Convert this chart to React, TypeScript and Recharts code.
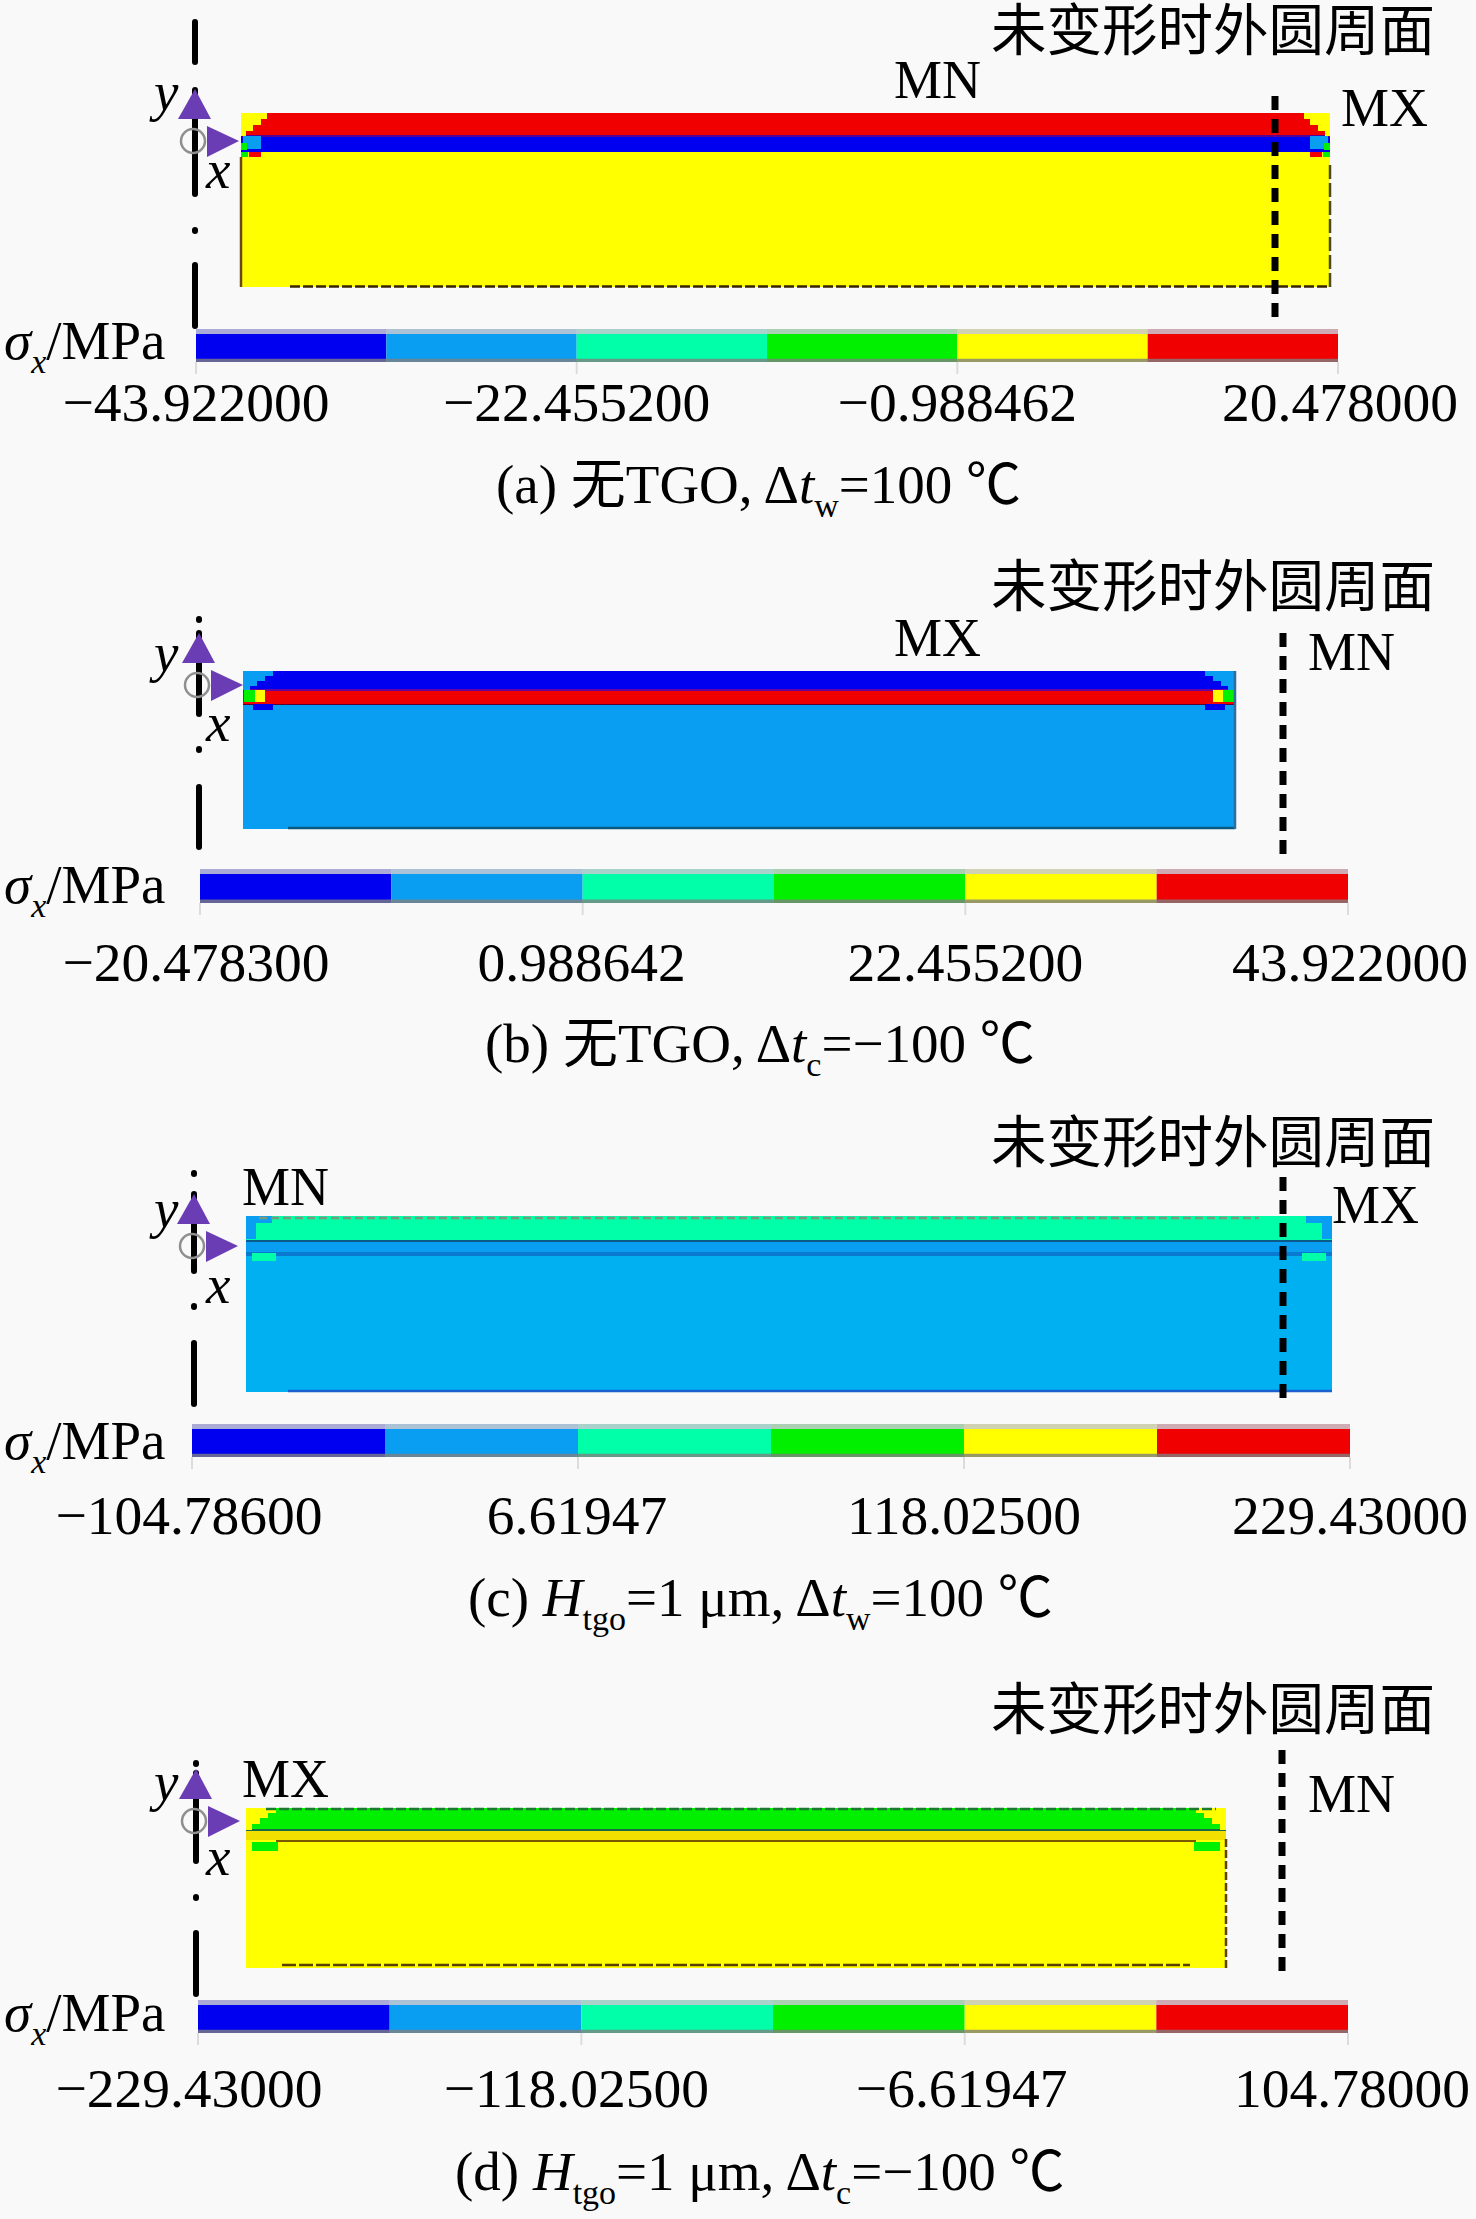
import React from "react";
import {
  Area,
  ComposedChart,
  ReferenceArea,
  ReferenceDot,
  ReferenceLine,
  XAxis,
  YAxis,
} from "recharts";

// contour bands, low to high stress
const BAND_COLORS = ["#0000f0", "#0a9ef2", "#00ffa8", "#00f000", "#ffff00", "#f00000"];

// colour bar boundaries (MPa) and printed tick labels
const boundsA = [-43.922, -33.1886, -22.4552, -11.7218, -0.988462, 9.7448, 20.478];
const boundsB = [-20.4783, -9.745, 0.988642, 11.722, 22.4552, 33.189, 43.922];
const boundsC = [-104.786, -49.083, 6.61947, 62.322, 118.025, 173.728, 229.43];
const boundsD = [-229.43, -173.728, -118.025, -62.322, -6.61947, 49.083, 104.78];

const ticksA = ["−43.922000", "−22.455200", "−0.988462", "20.478000"];
const ticksB = ["−20.478300", "0.988642", "22.455200", "43.922000"];
const ticksC = ["−104.78600", "6.61947", "118.02500", "229.43000"];
const ticksD = ["−229.43000", "−118.02500", "−6.61947", "104.78000"];

// plate layers, bottom to top, thickness in model units
const layersA = [13.5, 1.5, 0.2, 2.2];
const layersB = [12.4, 0.1, 1.3, 0.2, 1.8];
const layersC = [13.6, 0.4, 1.0, 0.2, 2.4];
const layersD = [12.6, 0.2, 0.9, 0.2, 2.1];

const layerColorsA = ["#ffff00", "#0000f0", "#5a008c", "#f00000"];
const layerColorsB = ["#0a9ef2", "#5a0030", "#f00000", "#6a00a0", "#0000f0"];
const layerColorsC = ["#00b0f0", "#0a7ad0", "#0a9ef2", "#0a5a8a", "#00ffa8"];
const layerColorsD = ["#ffff00", "#7a5a00", "#f2e000", "#1a6a4a", "#00f000"];

// plate extent along x from the symmetry axis, model units
const spanA = [4.6, 113.5];
const spanB = [4.4, 103.6];
const spanC = [5.2, 113.8];
const spanD = [5.0, 103.0];

// undeformed outer surface: [x, yTop, yBottom]
const surfaceA = [108.0, 19.1, -3.5];
const surfaceB = [108.4, 19.6, -2.9];
const surfaceC = [108.9, 21.5, -1.0];
const surfaceD = [108.6, 21.8, -0.7];

// dash-dot symmetry axis pieces: [yTop, yBottom]
const axisA = [[26.5, 22.5], [19.7, 9.3], [5.7, 5.6], [2.2, -3.9]];
const axisB = [[21.0, 20.9], [19.6, 11.5], [8.0, 7.9], [4.2, -1.8]];
const axisC = [[21.9, 21.8], [19.8, 12.1], [8.6, 8.5], [4.9, -1.2]];
const axisD = [[20.5, 20.4], [19.5, 10.7], [7.1, 7.0], [3.5, -2.6]];

// coordinate origin height
const originA = 14.6;
const originB = 14.4;
const originC = 14.6;
const originD = 14.7;

// corner patches, mirrored on both plate ends:
// [edge distance from, edge distance to, depth from, depth to, band]
const cornersA = [
  [0, 2.6, 0, 0.6, 4],
  [0, 2.0, 0.6, 1.2, 4],
  [0, 1.2, 1.2, 1.8, 4],
  [0, 0.5, 1.8, 2.3, 4],
  [0.2, 2.0, 2.3, 3.6, 1],
  [0, 0.6, 3.0, 3.7, 3],
  [0.8, 2.0, 3.9, 4.4, 5],
  [0, 0.7, 3.9, 4.4, 3],
];
const cornersB = [
  [0, 3.0, 0, 0.5, 1],
  [0, 2.2, 0.5, 1.0, 1],
  [0, 1.4, 1.0, 1.5, 1],
  [0, 0.7, 1.5, 1.9, 1],
  [0.1, 1.2, 1.9, 3.1, 3],
  [1.2, 2.2, 1.9, 3.1, 4],
  [1.0, 3.0, 3.3, 3.9, 0],
];
const cornersC = [
  [0, 2.6, 0, 0.7, 1],
  [0, 1.0, 0.7, 2.3, 1],
  [0.6, 3.0, 3.7, 4.5, 2],
];
const cornersD = [
  [0, 3.0, 0, 0.5, 4],
  [0, 2.2, 0.5, 1.0, 4],
  [0, 1.4, 1.0, 1.6, 4],
  [0, 0.6, 1.6, 2.2, 4],
  [0, 3.0, 3.2, 3.4, 4],
  [0.6, 3.2, 3.4, 4.3, 3],
];

// dark mesh edges: [xFrom, xTo, yFrom, yTo, colour, dash]
const edgesA = [
  [9.5, 113.5, 0.05, 0.05, "#3a2400", "10 3"],
  [4.6, 4.6, 0, 13.0, "#6a4a10", ""],
  [113.5, 113.5, 0, 12.4, "#4a4a20", "14 4"],
];
const edgesB = [
  [8.9, 103.6, 0.1, 0.1, "#0a5a80", ""],
  [103.6, 103.6, 0, 15.8, "#2f6f9f", ""],
];
const edgesC = [
  [9.4, 113.8, 0.1, 0.1, "#1a60d0", ""],
  [6.5, 106.5, 17.4, 17.4, "#7a9a80", "8 4"],
];
const edgesD = [
  [8.6, 99.4, 0.3, 0.3, "#5a4000", "14 3"],
  [103.0, 103.0, 0, 13.0, "#604000", "8 3"],
  [7.0, 102.0, 15.9, 15.9, "#1a7a30", "10 3"],
];

// page placement of each panel (pixels)
const panelLayout = [
  { axisX: 195, plateBottom: 287, top: 0, height: 330, barLeft: 196, barRight: 1338, barTop: 329, barHeight: 33, tickDrop: 59, tickNudge: [0, 0, 0, 2] },
  { axisX: 199, plateBottom: 829, top: 600, height: 262, barLeft: 200, barRight: 1348, barTop: 869, barHeight: 34, tickDrop: 78, tickNudge: [-4, -1, 0, 2] },
  { axisX: 194, plateBottom: 1392, top: 1160, height: 250, barLeft: 192, barRight: 1350, barTop: 1424, barHeight: 33, tickDrop: 77, tickNudge: [-3, -1, 0, 0] },
  { axisX: 196, plateBottom: 1968, top: 1740, height: 260, barLeft: 198, barRight: 1348, barTop: 2000, barHeight: 33, tickDrop: 74, tickNudge: [-9, -5, -3, 4] },
];

const panels = [
  { bounds: boundsA, ticks: ticksA, layers: layersA, colors: layerColorsA, span: spanA, surface: surfaceA, axis: axisA, origin: originA, corners: cornersA, edges: edgesA },
  { bounds: boundsB, ticks: ticksB, layers: layersB, colors: layerColorsB, span: spanB, surface: surfaceB, axis: axisB, origin: originB, corners: cornersB, edges: edgesB },
  { bounds: boundsC, ticks: ticksC, layers: layersC, colors: layerColorsC, span: spanC, surface: surfaceC, axis: axisC, origin: originC, corners: cornersC, edges: edgesC },
  { bounds: boundsD, ticks: ticksD, layers: layersD, colors: layerColorsD, span: spanD, surface: surfaceD, axis: axisD, origin: originD, corners: cornersD, edges: edgesD },
];

const SERIF = "'Liberation Serif', 'Noto Sans CJK SC', serif";
const CJK = "'Noto Sans CJK SC', sans-serif";
const FONT_SIZE = 55;
const PX_PER_UNIT = 10;
const SUB_DROP = 14;

function CoordinateTriad(props: any) {
  const { cx, cy } = props;
  return (
    <g>
      <circle cx={cx - 2} cy={cy} r={12} fill="none" stroke="#8f8f8f" strokeWidth={2.5} />
      <polygon
        points={`${cx},${cy - 52} ${cx - 17},${cy - 22} ${cx + 16},${cy - 22}`}
        fill="#6a3db4"
      />
      <polygon
        points={`${cx + 12},${cy - 15} ${cx + 44},${cy} ${cx + 12},${cy + 16}`}
        fill="#6a3db4"
      />
    </g>
  );
}

function PlateChart({ panel, layout }: any) {
  const { axisX, plateBottom, top, height } = layout;
  const xDomain = [-axisX / PX_PER_UNIT, (1476 - axisX) / PX_PER_UNIT];
  const yDomain = [
    (plateBottom - (top + height)) / PX_PER_UNIT,
    (plateBottom - top) / PX_PER_UNIT,
  ];
  const [x0, x1] = panel.span;
  const rows = panel.span.map((x: number) => {
    const row: any = { x };
    panel.layers.forEach((t: number, i: number) => {
      row[`layer${i}`] = t;
    });
    return row;
  });
  const plateTop = panel.layers.reduce((a: number, b: number) => a + b, 0);

  return (
    <div style={{ position: "absolute", left: 0, top }}>
      <ComposedChart
        width={1476}
        height={height}
        data={rows}
        margin={{ top: 0, right: 0, bottom: 0, left: 0 }}
      >
        <XAxis dataKey="x" type="number" domain={xDomain} allowDataOverflow hide />
        <YAxis type="number" domain={yDomain} allowDataOverflow hide />
        {panel.layers.map((_: number, i: number) => (
          <Area
            key={i}
            dataKey={`layer${i}`}
            stackId="plate"
            type="linear"
            fill={panel.colors[i]}
            fillOpacity={1}
            stroke="none"
            dot={false}
            activeDot={false}
            isAnimationActive={false}
          />
        ))}
        {panel.corners.flatMap((c: number[], i: number) =>
          [
            [x0 + c[0], x0 + c[1]],
            [x1 - c[1], x1 - c[0]],
          ].map((xs, side) => (
            <ReferenceArea
              key={`corner-${i}-${side}`}
              x1={xs[0]}
              x2={xs[1]}
              y1={plateTop - c[3]}
              y2={plateTop - c[2]}
              fill={BAND_COLORS[c[4]]}
              fillOpacity={1}
              stroke="none"
              ifOverflow="visible"
            />
          ))
        )}
        {panel.edges.map((e: any[], i: number) => (
          <ReferenceLine
            key={`edge-${i}`}
            segment={[
              { x: e[0], y: e[2] },
              { x: e[1], y: e[3] },
            ]}
            stroke={e[4]}
            strokeWidth={2.5}
            strokeDasharray={e[5]}
            ifOverflow="visible"
          />
        ))}
        <ReferenceLine
          segment={[
            { x: panel.surface[0], y: panel.surface[1] },
            { x: panel.surface[0], y: panel.surface[2] },
          ]}
          stroke="#000"
          strokeWidth={7}
          strokeDasharray="14 9"
          ifOverflow="visible"
        />
        <ReferenceDot
          x={0}
          y={panel.origin}
          r={1}
          shape={<CoordinateTriad />}
          ifOverflow="visible"
        />
        {panel.axis.map((seg: number[], i: number) => (
          <ReferenceLine
            key={`axis-${i}`}
            segment={[
              { x: 0, y: seg[0] },
              { x: 0, y: seg[1] },
            ]}
            stroke="#000"
            strokeWidth={6}
            strokeLinecap="round"
            ifOverflow="visible"
          />
        ))}
      </ComposedChart>
    </div>
  );
}

function ColorBar({ panel, layout }: any) {
  const { barLeft, barRight, barHeight, barTop, tickDrop, tickNudge } = layout;
  const bounds = panel.bounds;
  // each band is only defined on its own two boundaries
  const rows = bounds.map((v: number, i: number) => {
    const row: any = { v };
    if (i < 6) row[`band${i}`] = 1;
    if (i > 0) row[`band${i - 1}`] = 1;
    return row;
  });
  const tickValues = [bounds[0], bounds[2], bounds[4], bounds[6]];

  const renderTick = (props: any) => {
    const idx = tickValues.indexOf(props.payload.value);
    return (
      <text
        x={props.x + tickNudge[idx]}
        y={barHeight + tickDrop}
        textAnchor="middle"
        fontFamily={SERIF}
        fontSize={55.5}
        fill="#000"
      >
        {panel.ticks[idx]}
      </text>
    );
  };

  return (
    <div style={{ position: "absolute", left: 0, top: barTop }}>
      <ComposedChart
        width={1476}
        height={barHeight + 110}
        data={rows}
        margin={{ top: 0, right: 1476 - barRight, bottom: 0, left: barLeft }}
      >
        <XAxis
          dataKey="v"
          type="number"
          domain={[bounds[0], bounds[6]]}
          ticks={tickValues}
          interval={0}
          height={110}
          axisLine={false}
          tickLine={{ stroke: "#dcdcdc", strokeWidth: 2 }}
          tickSize={12}
          tick={renderTick}
        />
        <YAxis type="number" domain={[0, 1]} hide />
        {BAND_COLORS.map((color, i) => (
          <Area
            key={i}
            dataKey={`band${i}`}
            baseValue={0}
            type="linear"
            fill={color}
            fillOpacity={1}
            stroke="none"
            dot={false}
            activeDot={false}
            isAnimationActive={false}
          />
        ))}
        <ReferenceArea
          x1={bounds[0]}
          x2={bounds[6]}
          y1={0.85}
          y2={1}
          fill="#c9c9d2"
          fillOpacity={0.85}
          stroke="none"
        />
        <ReferenceArea
          x1={bounds[0]}
          x2={bounds[6]}
          y1={0}
          y2={0.1}
          fill="#7f7f7f"
          fillOpacity={0.8}
          stroke="none"
        />
      </ComposedChart>
    </div>
  );
}

const topNoteY = [50, 606, 1162, 1729];
const yLabelY = [110, 671, 1227, 1800];
const xLabelY = [188, 741, 1303, 1875];
const sigmaY = [359, 903, 1459, 2031];
const peakLabels = [
  [["MN", 894, 98], ["MX", 1341, 126]],
  [["MX", 894, 656], ["MN", 1308, 670]],
  [["MN", 242, 1205], ["MX", 1332, 1223]],
  [["MX", 242, 1797], ["MN", 1308, 1812]],
];

// "i" italic, "s" subscript, anything else upright
const captionA = [["(a) 无TGO,\u2009Δ"], ["t", "i"], ["w", "s"], ["=100 ℃"]];
const captionB = [["(b) 无TGO,\u2009Δ"], ["t", "i"], ["c", "s"], ["=−100 ℃"]];
const captionC = [["(c) "], ["H", "i"], ["tgo", "s"], ["=1 μm,\u2009Δ"], ["t", "i"], ["w", "s"], ["=100 ℃"]];
const captionD = [["(d) "], ["H", "i"], ["tgo", "s"], ["=1 μm,\u2009Δ"], ["t", "i"], ["c", "s"], ["=−100 ℃"]];
const sigmaLabel = [["σ", "i"], ["x", "si"], ["/MPa"]];

function RichText({ parts, x, y }: any) {
  let wasSub = false;
  return (
    <text x={x} y={y}>
      {parts.map((p: string[], i: number) => {
        const sub = p[1] === "s" || p[1] === "si";
        const dy = sub === wasSub ? 0 : sub ? SUB_DROP : -SUB_DROP;
        wasSub = sub;
        return (
          <tspan
            key={i}
            dy={dy}
            fontSize={sub ? 34 : undefined}
            fontStyle={p[1] === "i" || p[1] === "si" ? "italic" : undefined}
          >
            {p[0]}
          </tspan>
        );
      })}
    </text>
  );
}

function Annotations() {
  return (
    <svg
      width={1476}
      height={2219}
      style={{ position: "absolute", left: 0, top: 0, pointerEvents: "none" }}
      fontFamily={SERIF}
      fontSize={FONT_SIZE}
      fill="#000"
    >
      {topNoteY.map((y, i) => (
        <text key={i} x={991} y={y} fontFamily={CJK} fontSize={55.5}>
          未变形时外圆周面
        </text>
      ))}
      {yLabelY.map((y, i) => (
        <text key={i} x={154} y={y} fontStyle="italic">
          y
        </text>
      ))}
      {xLabelY.map((y, i) => (
        <text key={i} x={206} y={y} fontStyle="italic">
          x
        </text>
      ))}
      {sigmaY.map((y, i) => (
        <RichText key={i} parts={sigmaLabel} x={4} y={y} />
      ))}
      {peakLabels.flat().map((p: any, i) => (
        <text key={i} x={p[1]} y={p[2]} fontSize={54}>
          {p[0]}
        </text>
      ))}
      <RichText parts={captionA} x={496} y={503} />
      <RichText parts={captionB} x={485} y={1062} />
      <RichText parts={captionC} x={468} y={1616} />
      <RichText parts={captionD} x={455} y={2190} />
    </svg>
  );
}

export default function App() {
  return (
    <div
      style={{
        position: "absolute",
        left: 0,
        top: 0,
        width: 1476,
        height: 2219,
        background: "#f9f9f9",
        overflow: "hidden",
      }}
    >
      {panels.map((panel, i) => (
        <PlateChart key={i} panel={panel} layout={panelLayout[i]} />
      ))}
      {panels.map((panel, i) => (
        <ColorBar key={i} panel={panel} layout={panelLayout[i]} />
      ))}
      <Annotations />
    </div>
  );
}
